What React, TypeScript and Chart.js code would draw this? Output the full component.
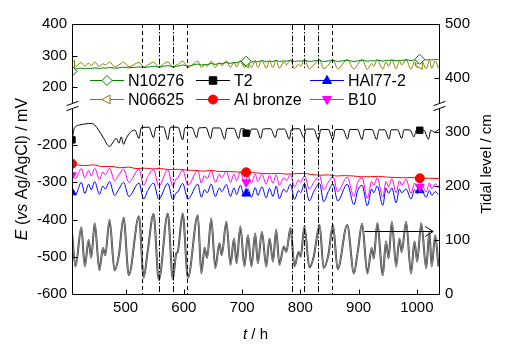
import React, { useEffect, useRef } from 'react';
import { Chart, registerables } from 'chart.js';

Chart.register(...registerables);

// ---------- axis ticks ----------
const xTicks = [500, 600, 700, 800, 900, 1000];
const leftTopTicks = [200, 300, 400];
const leftBottomTicks = [-600, -500, -400, -300, -200];
const rightTicks = [0, 100, 200, 300, 400, 500];

// ---------- tide level (right axis) and series sampled at tide extremes ----------
const tideHours = [
  408, 414, 424, 430, 436.5, 441, 447, 455, 461, 465,
  472.5, 481, 488.5, 496.5, 505.5, 523, 531, 538, 548, 557,
  572.5, 581, 587, 589.5, 598, 607, 624, 630, 635.5, 640,
  647, 654, 661, 665, 673, 680, 686, 690.5, 697, 704,
  710, 716, 722.5, 727, 734, 741.5, 747, 753, 758.5, 764,
  771.5, 776, 783, 790, 797, 800.5, 807, 815.5, 823, 833,
  840, 848, 856, 864, 880.5, 892, 898.5, 906, 915, 922.5,
  926, 932, 941.5, 947, 951.5, 957, 964.5, 970, 974, 981.5,
  990, 996, 1000.5, 1007.5, 1016, 1021.5, 1025.5, 1031.5, 1037,
];
const tideLevels = [
  112, 51, 123, 51, 100, 67, 131, 44, 85, 72,
  137, 44, 72, 141, 35, 144, 30, 80, 148, 26,
  149, 28, 75, 78, 149, 30, 146, 38, 85, 67,
  140, 48, 94, 72, 134, 54, 103, 57, 125, 51,
  109, 51, 112, 57, 115, 51, 103, 60, 119, 54,
  88, 78, 122, 51, 78, 69, 125, 49, 69, 128,
  48, 72, 128, 46, 128, 38, 78, 130, 38, 85,
  66, 131, 35, 97, 66, 134, 51, 103, 78, 134,
  38, 97, 60, 131, 48, 115, 51, 109, 51,
];
const b10Values = [
  -281, -290, -263, -288, -268, -283, -262, -292, -272, -280,
  -262, -295, -280, -264, -300, -265, -308, -285, -266, -310,
  -266, -310, -290, -288, -267, -308, -268, -302, -282, -290,
  -268, -300, -278, -288, -270, -300, -278, -296, -272, -302,
  -282, -302, -278, -298, -278, -305, -282, -302, -280, -308,
  -288, -295, -280, -312, -294, -300, -282, -318, -300, -283,
  -320, -300, -284, -325, -286, -338, -300, -288, -343, -298,
  -308, -288, -340, -298, -312, -290, -328, -296, -308, -292,
  -330, -302, -314, -304, -326, -302, -318, -304, -316,
];
const hal77Values = [
  -327, -333, -300, -330, -305, -320, -298, -332, -310, -318,
  -298, -335, -318, -300, -338, -302, -345, -322, -302, -345,
  -303, -346, -328, -326, -303, -345, -305, -340, -320, -328,
  -305, -338, -315, -325, -306, -338, -315, -333, -308, -338,
  -318, -340, -314, -335, -312, -342, -316, -338, -310, -344,
  -318, -326, -305, -346, -322, -328, -303, -350, -325, -303,
  -352, -325, -304, -350, -305, -360, -322, -308, -363, -318,
  -328, -310, -362, -316, -330, -315, -355, -318, -328, -318,
  -345, -320, -330, -320, -340, -322, -335, -325, -333,
];
const n06625Values = [
  270, 265, 278, 266, 276, 268, 279, 265, 274, 270,
  279, 265, 270, 279, 264, 278, 264, 270, 279, 264,
  280, 263, 270, 271, 282, 262, 282, 262, 272, 266,
  282, 262, 278, 268, 283, 262, 279, 264, 284, 262,
  282, 262, 283, 262, 285, 260, 282, 262, 286, 260,
  280, 270, 286, 259, 272, 266, 287, 258, 270, 287,
  258, 270, 287, 258, 287, 257, 272, 287, 257, 275,
  266, 287, 257, 280, 266, 287, 258, 282, 270, 287,
  257, 280, 262, 286, 258, 284, 260, 283, 260,
];
const n10276Values = [
  250, 257, 260, 258, 260, 259, 261, 259, 261, 260,
  262, 260, 261, 263, 261, 264, 262, 263, 266, 263,
  268, 265, 266, 266, 270, 267, 273, 270, 271, 271,
  275, 272, 275, 274, 278, 275, 278, 277, 281, 279,
  282, 279, 283, 280, 284, 280, 283, 281, 285, 281,
  283, 282, 285, 281, 283, 282, 285, 281, 283, 285,
  281, 283, 285, 281, 285, 281, 283, 285, 282, 284,
  283, 286, 282, 285, 284, 286, 283, 285, 284, 287,
  284, 286, 285, 288, 286, 287, 286, 288, 287,
];

// ---------- T2 (left, lower) ----------
const t2Hours = [
  408, 412, 421, 441, 447, 461, 472.5, 479, 484, 488.5,
  492.5, 496.5, 501, 510, 516, 523, 527, 540, 548, 552,
  565, 572.5, 577, 590, 598, 602, 614, 622, 626, 638,
  646, 650, 662, 670, 674, 686, 694, 698, 705, 712,
  716, 725, 732, 736, 749, 757, 761, 773, 781, 785,
  798, 806, 810, 823, 831, 835, 848, 856, 860, 873,
  881, 885, 898, 906, 910, 923, 931, 935, 945, 952,
  956, 967, 974, 978, 988, 995, 999, 1012, 1020, 1024,
  1030, 1038,
];
const t2Values = [
  -186, -155, -146, -142, -146, -178, -204, -191, -182, -195,
  -178, -198, -182, -163, -160, -182, -153, -152, -180, -153,
  -151, -185, -152, -152, -186, -153, -153, -180, -154, -153,
  -182, -154, -154, -184, -155, -155, -183, -156, -157, -175,
  -157, -157, -182, -157, -156, -180, -157, -157, -184, -157,
  -156, -180, -157, -157, -186, -158, -158, -186, -158, -158,
  -184, -158, -158, -185, -158, -158, -185, -159, -159, -184,
  -159, -159, -182, -159, -159, -178, -160, -160, -184, -160,
  -165, -158,
];

// ---------- Al bronze (left, lower) ----------
const alBronzeHours = [
  408, 420, 432, 445, 461, 475, 490, 505, 518, 532,
  547, 560, 575, 590, 604, 618, 633, 647, 661, 675,
  690, 704, 718, 735, 750, 763, 777, 790, 805, 820,
  834, 848, 862, 876, 891, 905, 920, 934, 948, 962,
  977, 990, 1005, 1020, 1038,
];
const alBronzeValues = [
  -250, -254, -255, -253, -258, -257, -261, -259, -263, -262,
  -264, -263, -266, -265, -267, -268, -270, -268, -271, -271,
  -272, -273, -274, -276, -277, -276, -278, -277, -276, -279,
  -281, -280, -283, -282, -283, -285, -285, -284, -286, -287,
  -288, -287, -289, -289, -290,
];

// ---------- symbols ----------
const markerHours = [408, 707, 1005];
const n10276Markers = [250, 282, 288];
const n06625Markers = [270, 275, 270];
const t2Markers = [-186, -168, -160];
const alBronzeMarkers = [-250, -273, -289];
const hal77Markers = [-327, -330, -321];
const b10Markers = [-281, -300, -312];

// ---------- annotations ----------
const eventHoursA = [529, 557, 581, 606];
const eventHoursB = [785, 807, 831, 855];
const eventUpperRange = [260, 400];
const eventLowerRange = [-600, -146];
const arrowHours = [910, 1028];
const arrowLevel = 116;

const FONT = '"Liberation Sans", Arial, Helvetica, sans-serif';

const pts = (xs: number[], ys: number[]) => xs.map((x, i) => ({ x, y: ys[i] }));

type Kind = 'diamond' | 'square' | 'circle' | 'up' | 'down' | 'left';

function drawMarker(ctx: CanvasRenderingContext2D, kind: Kind, x: number, y: number, r: number, fill: string, stroke: string) {
  ctx.save();
  ctx.setLineDash([]);
  ctx.beginPath();
  if (kind === 'diamond') {
    ctx.moveTo(x, y - r); ctx.lineTo(x + r, y); ctx.lineTo(x, y + r); ctx.lineTo(x - r, y); ctx.closePath();
  } else if (kind === 'square') {
    ctx.rect(x - r * 0.75, y - r * 0.75, r * 1.5, r * 1.5);
  } else if (kind === 'circle') {
    ctx.arc(x, y, r * 0.9, 0, Math.PI * 2);
  } else if (kind === 'up') {
    ctx.moveTo(x, y - r); ctx.lineTo(x + r * 0.9, y + r * 0.6); ctx.lineTo(x - r * 0.9, y + r * 0.6); ctx.closePath();
  } else if (kind === 'down') {
    ctx.moveTo(x, y + r); ctx.lineTo(x + r * 0.9, y - r * 0.6); ctx.lineTo(x - r * 0.9, y - r * 0.6); ctx.closePath();
  } else {
    ctx.moveTo(x - r, y); ctx.lineTo(x + r * 0.6, y - r * 0.9); ctx.lineTo(x + r * 0.6, y + r * 0.9); ctx.closePath();
  }
  ctx.fillStyle = fill;
  ctx.fill();
  ctx.lineWidth = 1;
  ctx.strokeStyle = stroke;
  ctx.stroke();
  ctx.restore();
}

const legendItems: { label: string; color: string; kind: Kind; fill: string }[][] = [
  [
    { label: 'N10276', color: '#008000', kind: 'diamond', fill: '#ffffff' },
    { label: 'T2', color: '#000000', kind: 'square', fill: '#000000' },
    { label: 'HAl77-2', color: '#0000ff', kind: 'up', fill: '#0000ff' },
  ],
  [
    { label: 'N06625', color: '#808000', kind: 'left', fill: '#ffffff' },
    { label: 'Al bronze', color: '#ff0000', kind: 'circle', fill: '#ff0000' },
    { label: 'B10', color: '#ff00ff', kind: 'down', fill: '#ff00ff' },
  ],
];

type Part = { t: string; it?: boolean };
function drawRich(ctx: CanvasRenderingContext2D, parts: Part[], cx: number, cy: number, rot: number, size: number) {
  ctx.save();
  ctx.translate(cx, cy);
  ctx.rotate(rot);
  ctx.fillStyle = '#000';
  ctx.textBaseline = 'alphabetic';
  ctx.textAlign = 'left';
  const f = (p: Part) => `${p.it ? 'italic ' : ''}${size}px ${FONT}`;
  let total = 0;
  for (const p of parts) { ctx.font = f(p); total += ctx.measureText(p.t).width; }
  let x = -total / 2;
  for (const p of parts) { ctx.font = f(p); ctx.fillText(p.t, x, 0); x += ctx.measureText(p.t).width; }
  ctx.restore();
}

const decor = {
  id: 'decor',
  beforeDatasetDraw(chart: any) {
    const { ctx, chartArea: ca } = chart;
    ctx.save();
    ctx.beginPath();
    ctx.rect(ca.left, ca.top, ca.right - ca.left, ca.bottom - ca.top);
    ctx.clip();
  },
  afterDatasetDraw(chart: any) {
    chart.ctx.restore();
  },
  afterDatasetsDraw(chart: any) {
    const { ctx, scales } = chart;
    const { x, yTop, yBot, yR } = scales;
    ctx.save();
    ctx.strokeStyle = '#000';
    ctx.lineWidth = 1;
    const ev = (h: number, dash: number[]) => {
      const px = Math.round(x.getPixelForValue(h)) + 0.5;
      ctx.setLineDash(dash);
      ctx.beginPath();
      ctx.moveTo(px, yTop.getPixelForValue(eventUpperRange[1]));
      ctx.lineTo(px, yTop.getPixelForValue(eventUpperRange[0]));
      ctx.moveTo(px, yBot.getPixelForValue(eventLowerRange[1]));
      ctx.lineTo(px, yBot.getPixelForValue(eventLowerRange[0]));
      ctx.stroke();
    };
    const dashed = [4, 3];
    const dashDot = [6, 2, 1.5, 2];
    eventHoursA.forEach((h, i) => ev(h, i === 0 || i === 3 ? dashed : dashDot));
    eventHoursB.forEach((h, i) => ev(h, i === 3 ? dashed : dashDot));
    // arrow
    ctx.setLineDash([]);
    const a0 = x.getPixelForValue(arrowHours[0]);
    const a1 = x.getPixelForValue(arrowHours[1]);
    const ay = Math.round(yR.getPixelForValue(arrowLevel)) + 0.5;
    ctx.beginPath();
    ctx.moveTo(a0, ay); ctx.lineTo(a1, ay);
    ctx.moveTo(a1 - 8, ay - 5); ctx.lineTo(a1, ay); ctx.lineTo(a1 - 8, ay + 5);
    ctx.stroke();
    ctx.restore();
  },
  afterDraw(chart: any) {
    const { ctx, chartArea: ca, scales } = chart;
    const { x, yTop, yBot, yR } = scales;
    const L = Math.round(ca.left) + 0.5, R = Math.round(ca.right) + 0.5;
    const T = Math.round(ca.top) + 0.5, B = Math.round(ca.bottom) + 0.5;
    ctx.save();
    ctx.setLineDash([]);
    ctx.strokeStyle = '#000';
    ctx.lineWidth = 1;
    ctx.strokeRect(L, T, R - L, B - T);
    // inward ticks
    ctx.beginPath();
    xTicks.forEach((v) => { const p = Math.round(x.getPixelForValue(v)) + 0.5; ctx.moveTo(p, B); ctx.lineTo(p, B - 5); });
    leftTopTicks.forEach((v) => { const p = Math.round(yTop.getPixelForValue(v)) + 0.5; ctx.moveTo(L, p); ctx.lineTo(L + 5, p); });
    leftBottomTicks.forEach((v) => { const p = Math.round(yBot.getPixelForValue(v)) + 0.5; ctx.moveTo(L, p); ctx.lineTo(L + 5, p); });
    rightTicks.forEach((v) => { const p = Math.round(yR.getPixelForValue(v)) + 0.5; ctx.moveTo(R, p); ctx.lineTo(R - 5, p); });
    ctx.stroke();
    // axis breaks
    const by = yBot.top;
    for (const ax of [L, R]) {
      ctx.fillStyle = '#fff';
      ctx.fillRect(ax - 2, by - 2.5, 4, 5);
      ctx.beginPath();
      for (const d of [-2.5, 2.5]) { ctx.moveTo(ax - 6, by + d + 2.2); ctx.lineTo(ax + 6, by + d - 2.2); }
      ctx.stroke();
    }
    // legend
    const colX = [18, 124, 238];
    const rowY = [56, 75];
    ctx.font = `16px ${FONT}`;
    ctx.textBaseline = 'middle';
    ctx.textAlign = 'left';
    legendItems.forEach((row, r) => row.forEach((it, c) => {
      const x0 = ca.left + colX[c];
      const y0 = Math.round(ca.top + rowY[r]) + 0.5;
      ctx.strokeStyle = it.color;
      ctx.beginPath(); ctx.moveTo(x0, y0); ctx.lineTo(x0 + 34, y0); ctx.stroke();
      drawMarker(ctx, it.kind, x0 + 17, y0, 5, it.fill, it.color);
      ctx.fillStyle = '#000';
      ctx.fillText(it.label, x0 + 38, y0 + 1);
    }));
    // axis titles
    drawRich(ctx, [{ t: 't', it: true }, { t: ' / h' }], (ca.left + ca.right) / 2, 339, 0, 15);
    drawRich(ctx, [{ t: 'E', it: true }, { t: ' (' }, { t: 'vs', it: true }, { t: ' Ag/AgCl) / mV' }], 27, 169, -Math.PI / 2, 16);
    drawRich(ctx, [{ t: 'Tidal level / cm' }], 491, 164, -Math.PI / 2, 15);
    ctx.restore();
  },
};

const tickFont = { size: 15, family: FONT };
const fixTicks = (arr: number[]) => (s: any) => { s.ticks = arr.map((v) => ({ value: v })); };

export default function App() {
  const ref = useRef<HTMLCanvasElement>(null);
  useEffect(() => {
    const line = (data: any, color: string, yAxisID: string, width = 1) => ({
      data, yAxisID, xAxisID: 'x', borderColor: color, borderWidth: width, pointRadius: 0,
      cubicInterpolationMode: 'monotone', tension: 0.4, fill: false,
    });
    const marks = (data: any, color: string, yAxisID: string, style: string, fill: string, rotation = 0, radius = 5) => ({
      data, yAxisID, xAxisID: 'x', showLine: false, pointStyle: style, pointRadius: radius, pointRotation: rotation,
      pointBackgroundColor: fill, pointBorderColor: color, pointBorderWidth: 1, borderColor: color, backgroundColor: fill,
    });
    const chart = new Chart(ref.current as HTMLCanvasElement, {
      type: 'line',
      data: {
        datasets: [
          marks(pts(markerHours, n10276Markers), '#008000', 'yTop', 'rectRot', '#ffffff'),
          marks(pts(markerHours, n06625Markers), '#808000', 'yTop', 'triangle', '#ffffff', -90),
          marks(pts(markerHours, t2Markers), '#000000', 'yBot', 'rect', '#000000', 0, 4.5),
          marks(pts(markerHours, alBronzeMarkers), '#ff0000', 'yBot', 'circle', '#ff0000', 0, 4.5),
          marks(pts(markerHours, b10Markers), '#ff00ff', 'yBot', 'triangle', '#ff00ff', 180),
          marks(pts(markerHours, hal77Markers), '#0000ff', 'yBot', 'triangle', '#0000ff'),
          line(pts(tideHours, n10276Values), '#008000', 'yTop'),
          line(pts(tideHours, n06625Values), '#808000', 'yTop'),
          line(pts(t2Hours, t2Values), '#000000', 'yBot'),
          line(pts(alBronzeHours, alBronzeValues), '#ff0000', 'yBot'),
          line(pts(tideHours, b10Values), '#ff00ff', 'yBot'),
          line(pts(tideHours, hal77Values), '#0000ff', 'yBot'),
          line(pts(tideHours, tideLevels), '#a6a6a6', 'yR', 0.8),
          line(pts(tideHours, tideLevels), '#3a3a3a', 'yR', 2),
        ] as any,
      },
      options: {
        animation: false,
        responsive: false,
        events: [],
        layout: { padding: { top: 24, left: 0, right: 0, bottom: 0 } },
        plugins: { legend: { display: false }, tooltip: { enabled: false } },
        scales: {
          x: {
            type: 'linear', position: 'bottom', min: 408, max: 1038,
            grid: { display: false, drawTicks: false }, border: { display: false },
            afterBuildTicks: fixTicks(xTicks),
            afterFit: (s: any) => { s.height = 58; },
            ticks: { color: '#000', font: tickFont, padding: 5, maxRotation: 0, autoSkip: false, callback: (v: any) => String(v) },
          },
          yTop: {
            type: 'linear', position: 'left', stack: 'left', stackWeight: 82, weight: 1, min: 140, max: 400,
            grid: { display: false, drawTicks: false }, border: { display: false },
            afterBuildTicks: fixTicks(leftTopTicks),
            afterFit: (s: any) => { s.width = 72; },
            ticks: { color: '#000', font: tickFont, padding: 5, callback: (v: any) => String(v) },
          },
          yBot: {
            type: 'linear', position: 'left', stack: 'left', stackWeight: 188, weight: 0, min: -600, max: -95,
            grid: { display: false, drawTicks: false }, border: { display: false },
            afterBuildTicks: fixTicks(leftBottomTicks),
            afterFit: (s: any) => { s.width = 72; },
            ticks: { color: '#000', font: tickFont, padding: 5, callback: (v: any) => String(v) },
          },
          yR: {
            type: 'linear', position: 'right', min: 0, max: 500,
            grid: { display: false, drawTicks: false }, border: { display: false },
            afterBuildTicks: fixTicks(rightTicks),
            afterFit: (s: any) => { s.width = 82; },
            ticks: { color: '#000', font: tickFont, padding: 6, callback: (v: any) => String(v) },
          },
        } as any,
      },
      plugins: [decor],
    } as any);
    return () => chart.destroy();
  }, []);
  return (
    <div style={{ position: 'absolute', left: 0, top: 0, width: 521, height: 352, background: '#fff' }}>
      <canvas ref={ref} width={521} height={352} style={{ display: 'block' }} />
    </div>
  );
}
